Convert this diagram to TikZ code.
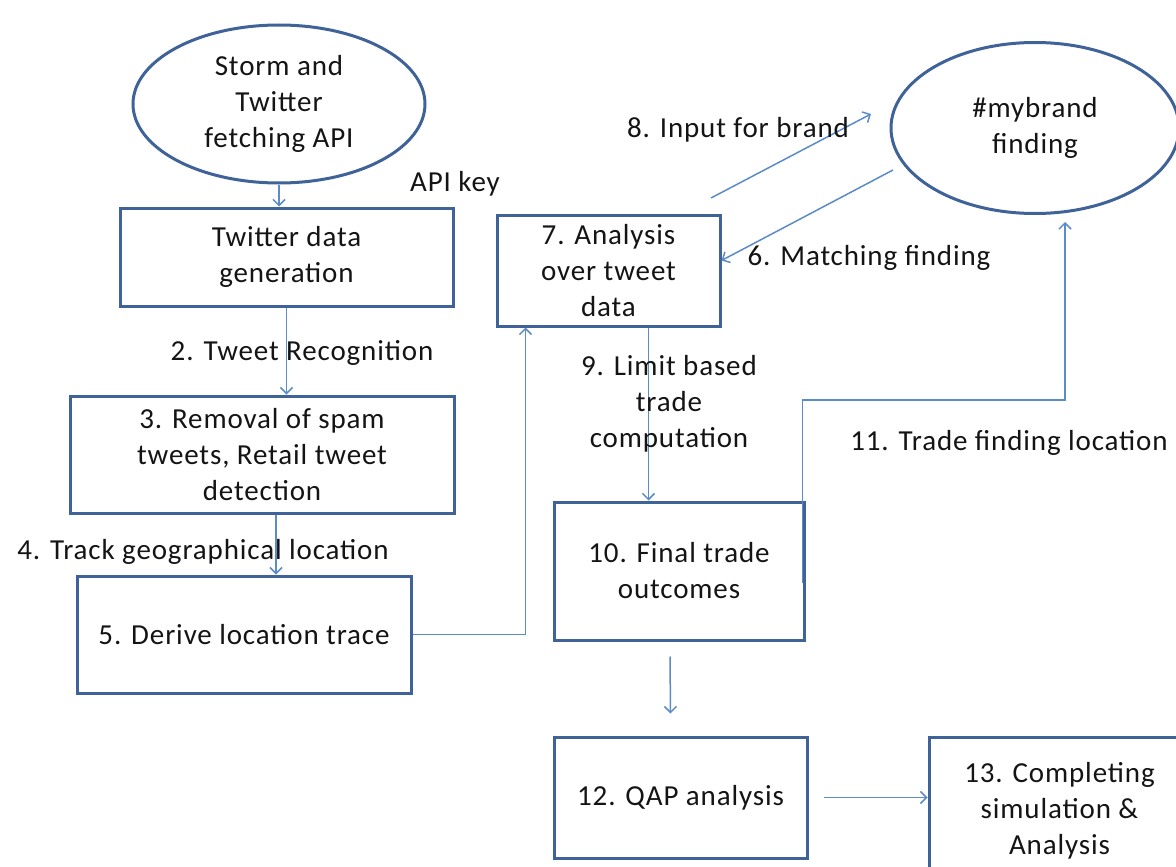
\documentclass[tikz,border=0pt]{standalone}
\usepackage{fontspec}
\setmainfont{Carlito}[LetterSpace=3]
\usetikzlibrary{shapes.geometric, arrows.meta}
\tikzset{>={Straight Barb[length=6pt, width=12pt]}}
\definecolor{boxblue}{HTML}{3F6398}
\definecolor{linkblue}{HTML}{5B8BC8}
\definecolor{ink}{HTML}{141414}

\begin{document}
\begin{tikzpicture}[x=1pt, y=-1pt,
    every node/.style={font=\fontsize{29}{36}\selectfont, text=ink},
    box/.style={draw=boxblue, line width=3pt, align=center, inner sep=0pt},
    oval/.style={ellipse, draw=boxblue, line width=3pt, align=center, inner sep=0pt},
    link/.style={draw=linkblue, line width=1.5pt, ->},
    lbl/.style={align=center, inner sep=0pt}]
    \useasboundingbox (0, 0) rectangle (1176, 867);
    \node[oval, minimum width=292, minimum height=158](storm)at(279, 104){Storm and\\Twitter\\fetching API};
    \node[oval, minimum width=288, minimum height=171](mybrand)at(1035, 128){\#mybrand\\finding};
    \node[box, minimum width=333, minimum height=98](twgen)at(286.5, 257){Twitter data\\generation};
    \node[box, minimum width=384, minimum height=117](removal)at(262, 454.5){3. Removal of spam\\tweets, Retail tweet\\detection};
    \node[box, minimum width=334, minimum height=117](derive)at(244, 634.5){5. Derive location trace};
    \node[box, minimum width=223, minimum height=111](analysis)at(608.5, 270.5){7. Analysis\\over tweet\\data};
    \node[box, minimum width=250, minimum height=138](final)at(679, 571){10. Final trade\\outcomes};
    \node[box, minimum width=253, minimum height=121](qap)at(680.5, 797.5){12. QAP analysis};
    \node[box, minimum width=261, minimum height=148](complete)at(1059.5, 811){13. Completing\\simulation \&\\Analysis};
    \coordinate(in8)at(711, 198);
    \coordinate(out8)at(871, 114);
    \coordinate(in6)at(893, 170);
    \coordinate(bend11)at(1065, 400);
    \draw[link](storm.south)--(storm.south |- twgen.north);
    \node[lbl](apikey)at(455, 184){API key};
    \draw[link](twgen.south)--(twgen.south |- removal.north);
    \node[lbl](tweetrec)at(302, 353){2. Tweet Recognition};
    \draw[link]([xshift=14pt]removal.south)--([xshift=14pt]removal.south |- derive.north);
    \node[lbl](track)at(203, 552){4. Track geographical location};
    \draw[link](derive.east)-|([xshift=30pt]analysis.south west);
    \draw[link](in8)--(out8);
    \node[lbl](inputbrand)at(738, 130){8. Input for brand};
    \draw[link](in6)--([yshift=10pt]analysis.east);
    \node[lbl](matching)at(869, 258){6. Matching finding};
    \draw[link]([xshift=40pt]analysis.south)--([xshift=40pt]analysis.south |- final.north);
    \node[lbl](limit)at(669, 404){9. Limit based\\trade\\computation};
    \draw[link]([xshift=-3pt, yshift=-12pt]final.east)|-(bend11)--([xshift=30pt, yshift=-7pt]mybrand.south);
    \node[lbl](tradeloc)at(1009, 443){11. Trade finding location};
    \draw[link]([xshift=-9pt, yshift=-15pt]final.south)--([xshift=-10pt, yshift=22pt]qap.north);
    \draw[link]([xshift=15pt]qap.east)--(qap.east -| complete.west);
\end{tikzpicture}
\end{document}
